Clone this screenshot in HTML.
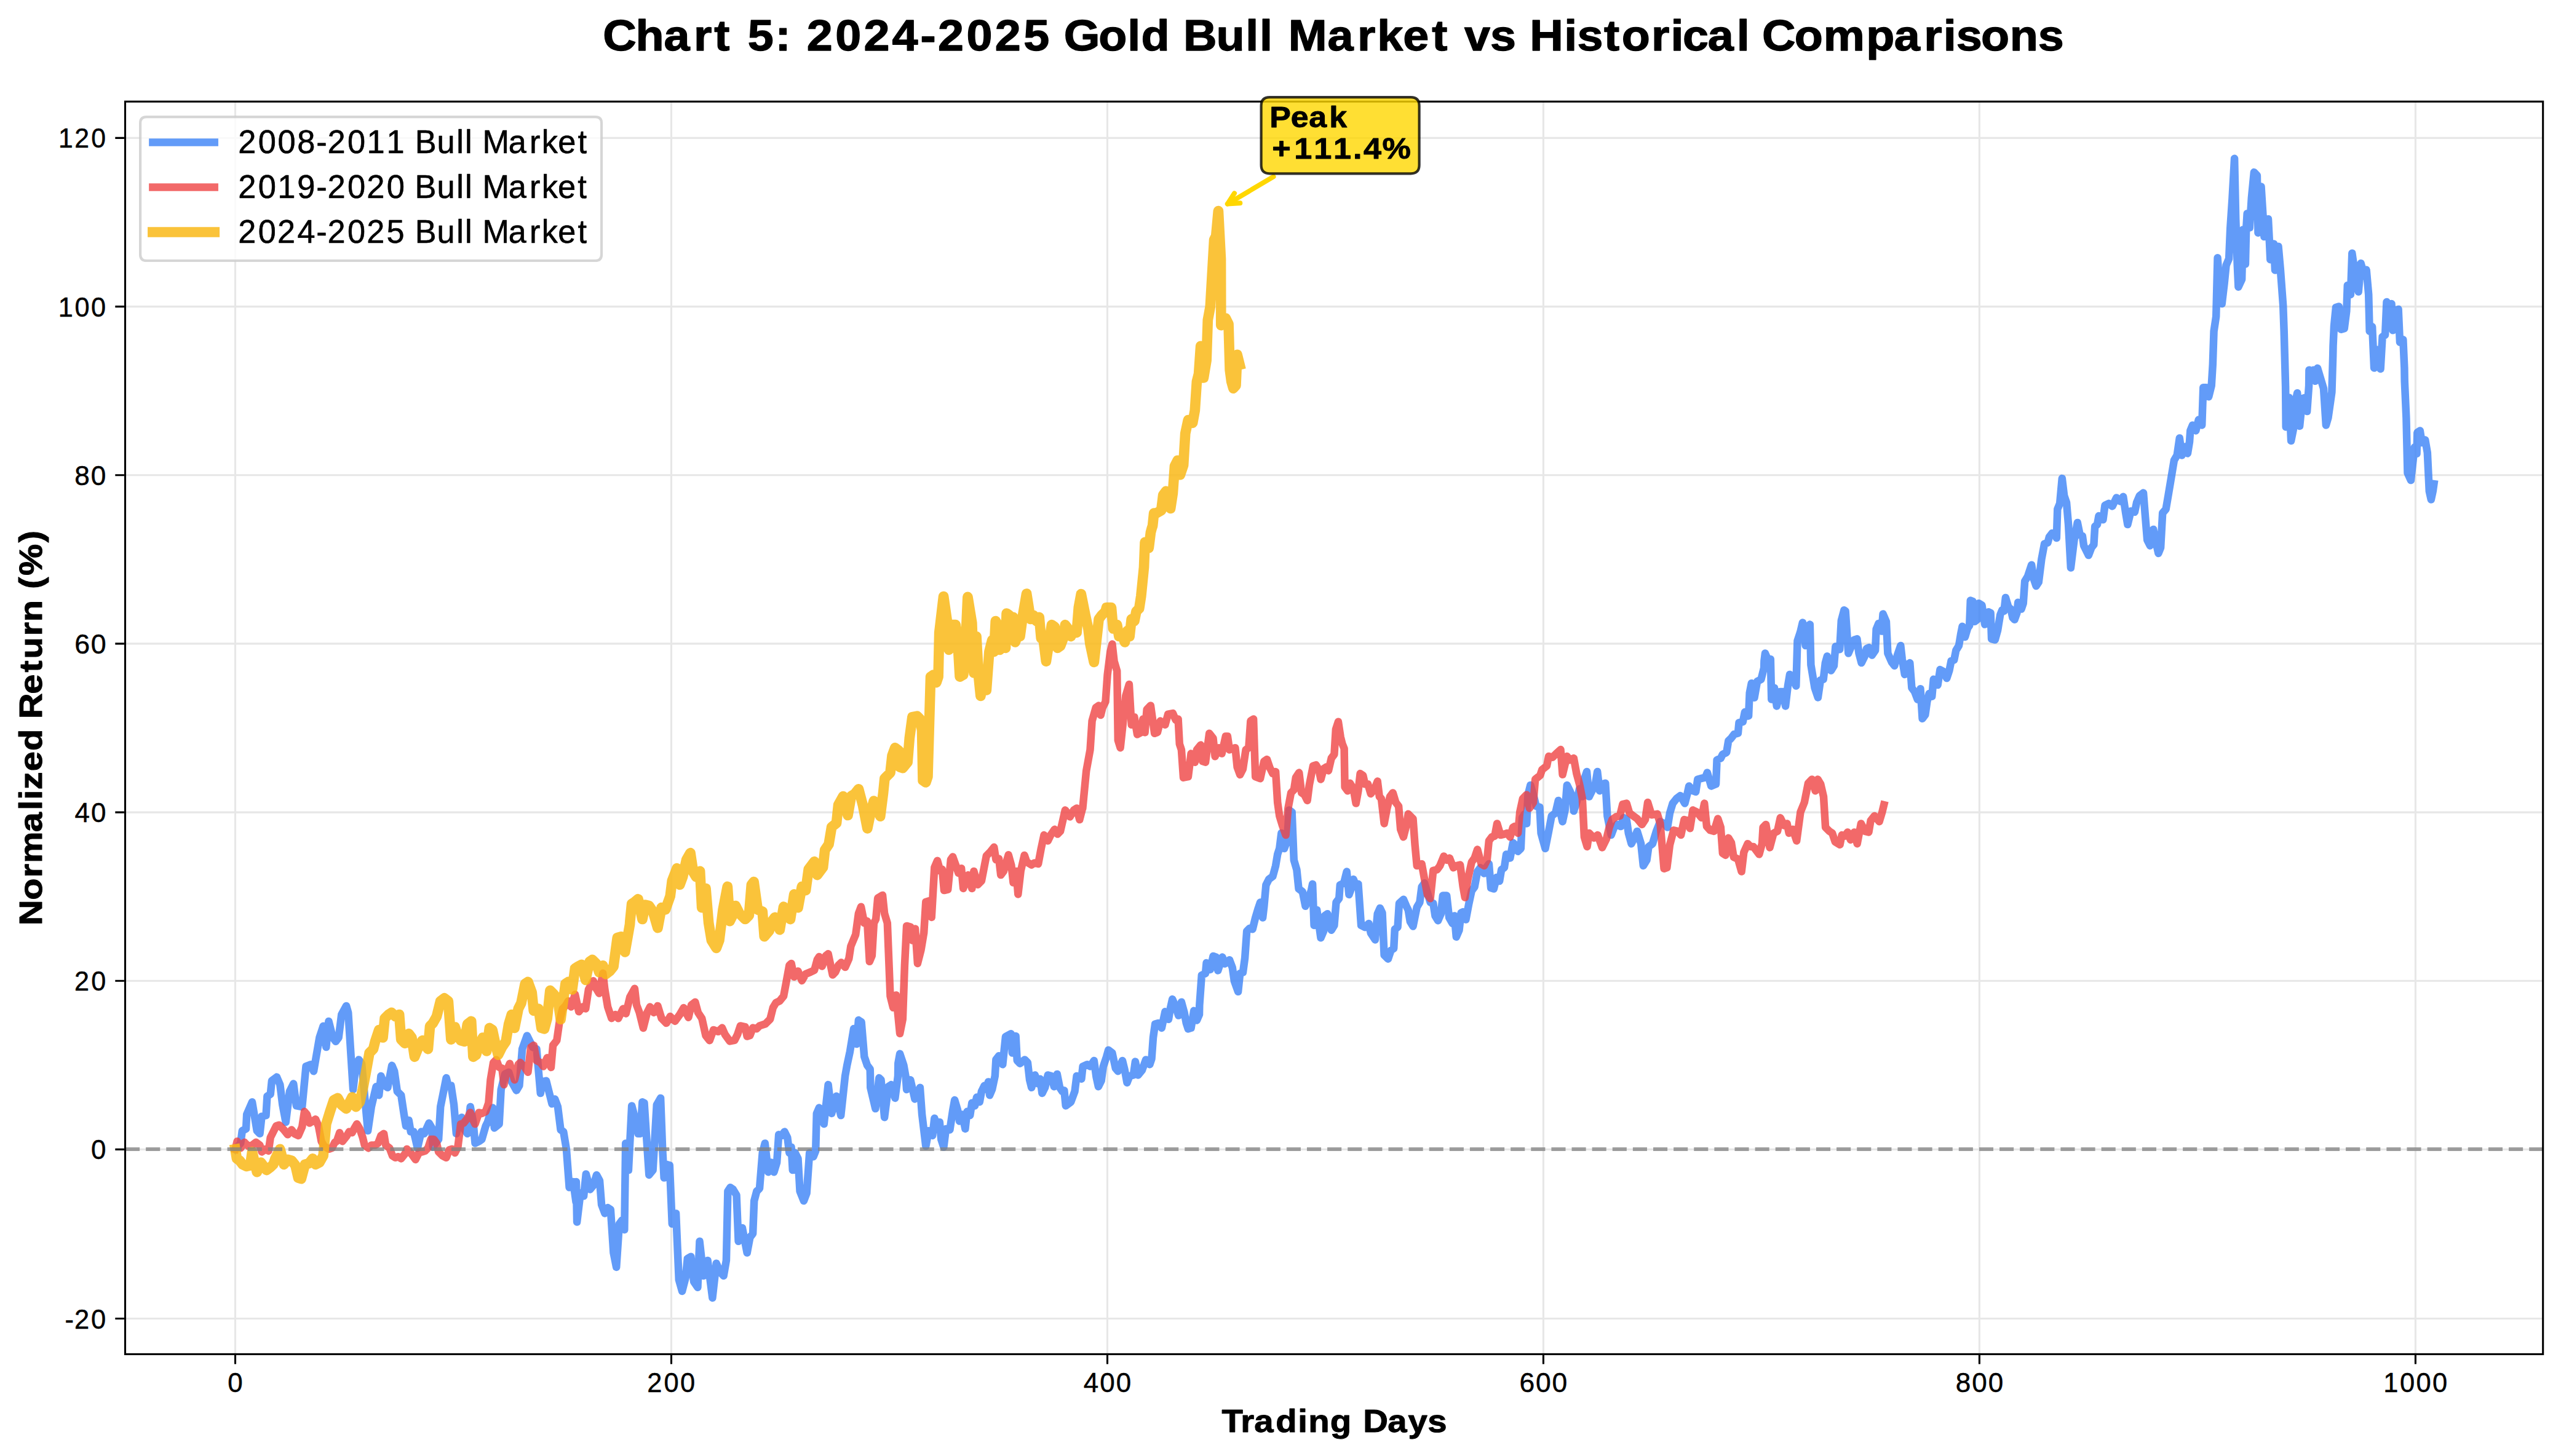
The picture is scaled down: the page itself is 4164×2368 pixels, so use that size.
<!DOCTYPE html><html lang="en"><head><meta charset="utf-8"><title>Chart 5</title>
<style>html,body{margin:0;padding:0;background:#fff}svg{display:block}text{font-family:"Liberation Sans",sans-serif;fill:#000}</style></head><body>
<svg width="4164" height="2368" viewBox="0 0 4164 2368">
<rect width="4164" height="2368" fill="#fff"/>
<path d="M382.5 165.2 V2202.4 M1091.5 165.2 V2202.4 M1800.5 165.2 V2202.4 M2509.4 165.2 V2202.4 M3218.4 165.2 V2202.4 M3927.4 165.2 V2202.4 M203.5 2144.5 H4134.7 M203.5 1869.4 H4134.7 M203.5 1595.2 H4134.7 M203.5 1321.1 H4134.7 M203.5 1046.9 H4134.7 M203.5 772.8 H4134.7 M203.5 498.6 H4134.7 M203.5 224.4 H4134.7" stroke="#b0b0b0" stroke-opacity="0.3" stroke-width="3.1" fill="none"/>
<clipPath id="c"><rect x="203.5" y="165.2" width="3931.2" height="2037.2"/></clipPath>
<g clip-path="url(#c)" fill="none" stroke-linejoin="round" stroke-linecap="square">
<path d="M382.5 1869.1 L391.2 1859.4 L393.8 1839.1 L400.0 1835.9 L401.2 1812.5 L410.0 1792.2 L417.8 1839.1 L422.5 1843.8 L425.6 1815.6 L432.5 1814.1 L434.4 1782.8 L439.7 1779.7 L441.9 1757.8 L450.0 1751.6 L455.3 1764.1 L459.4 1796.9 L464.7 1825.0 L470.9 1775.0 L477.2 1762.5 L481.9 1798.4 L491.2 1800.0 L497.5 1734.4 L505.3 1731.2 L510.0 1742.2 L519.4 1687.5 L525.6 1668.8 L530.3 1703.1 L534.4 1660.9 L541.2 1687.5 L545.9 1693.8 L550.6 1687.5 L555.3 1650.0 L563.1 1635.9 L566.2 1646.9 L574.1 1771.9 L578.8 1731.2 L583.4 1723.4 L588.1 1729.7 L592.8 1781.2 L598.1 1839.1 L603.8 1800.0 L611.6 1767.2 L616.2 1781.2 L619.4 1750.0 L625.6 1765.6 L630.3 1768.8 L637.2 1732.8 L641.2 1742.2 L645.9 1775.0 L652.2 1781.2 L656.9 1812.5 L660.0 1831.2 L664.7 1821.9 L667.8 1840.6 L672.5 1840.6 L675.6 1853.1 L678.8 1867.2 L685.0 1840.6 L689.7 1843.8 L697.5 1826.6 L702.2 1834.4 L703.8 1865.6 L713.1 1853.1 L716.2 1800.0 L725.6 1753.1 L728.8 1765.6 L733.4 1765.6 L738.1 1796.9 L741.9 1843.8 L745.9 1825.0 L750.6 1817.2 L755.3 1837.5 L760.0 1843.8 L764.7 1800.0 L769.4 1825.0 L772.5 1859.4 L778.8 1856.2 L783.4 1853.1 L789.7 1831.2 L792.8 1825.0 L797.5 1809.4 L801.2 1801.6 L803.8 1834.4 L811.6 1828.1 L814.7 1771.9 L820.9 1746.9 L827.2 1743.8 L831.9 1759.4 L839.7 1773.4 L844.4 1765.6 L849.1 1706.2 L856.9 1684.4 L860.0 1690.6 L866.2 1703.1 L872.5 1706.2 L878.8 1778.1 L881.9 1759.4 L888.1 1757.8 L894.4 1782.8 L897.5 1795.3 L902.2 1787.5 L906.9 1800.0 L911.6 1837.5 L916.2 1840.6 L920.9 1868.8 L925.6 1931.2 L931.9 1921.9 L936.6 1955.0 L936.9 1921.9 L938.1 1987.5 L943.8 1940.6 L949.1 1945.3 L952.8 1909.4 L959.4 1934.4 L964.7 1928.1 L970.0 1910.9 L975.0 1920.3 L978.1 1959.4 L983.4 1973.4 L988.1 1964.1 L992.8 1967.2 L997.5 2037.5 L1002.2 2060.9 L1006.9 1990.6 L1011.6 1984.4 L1015.3 2000.0 L1017.2 1859.4 L1021.9 1903.1 L1027.2 1798.4 L1033.4 1821.9 L1037.5 1843.8 L1041.2 1843.8 L1044.4 1792.2 L1047.5 1793.8 L1051.2 1850.0 L1055.3 1910.9 L1061.6 1903.1 L1067.8 1796.9 L1074.1 1785.9 L1077.2 1868.8 L1079.7 1915.6 L1083.4 1893.8 L1088.8 1895.3 L1092.8 1990.6 L1099.1 1973.4 L1103.8 2081.2 L1109.1 2100.0 L1114.7 2078.1 L1117.8 2046.9 L1123.4 2043.8 L1128.1 2084.4 L1134.4 2093.8 L1137.5 2018.8 L1143.8 2075.0 L1150.6 2050.0 L1158.4 2110.9 L1164.7 2054.7 L1170.9 2068.8 L1176.6 2075.0 L1180.9 2050.0 L1183.4 1937.5 L1187.5 1931.2 L1191.9 1934.4 L1197.5 1943.8 L1200.6 2018.8 L1206.9 1996.9 L1214.7 2037.5 L1219.4 2012.5 L1224.1 2006.2 L1226.2 1953.1 L1230.3 1937.5 L1235.0 1932.8 L1239.7 1875.0 L1243.8 1859.4 L1249.1 1906.2 L1253.8 1890.6 L1258.4 1906.2 L1263.1 1890.6 L1266.2 1845.3 L1270.9 1846.9 L1275.6 1840.6 L1280.3 1850.0 L1283.4 1875.0 L1286.6 1865.6 L1288.8 1903.1 L1292.8 1875.0 L1297.5 1884.4 L1300.6 1937.5 L1306.9 1953.1 L1311.6 1940.6 L1316.2 1875.0 L1322.5 1881.2 L1326.2 1871.9 L1327.8 1810.9 L1331.9 1801.6 L1339.7 1828.1 L1346.6 1764.1 L1352.2 1810.9 L1360.0 1782.8 L1367.2 1814.1 L1374.1 1750.0 L1377.2 1732.5 L1381.9 1710.6 L1388.1 1673.1 L1392.8 1698.1 L1395.9 1659.1 L1400.6 1662.2 L1405.3 1718.4 L1410.0 1732.5 L1414.7 1738.8 L1415.0 1750.0 L1415.3 1768.8 L1423.4 1803.1 L1429.4 1753.1 L1432.5 1756.2 L1438.1 1817.2 L1444.4 1767.2 L1449.1 1764.1 L1455.3 1785.9 L1460.0 1750.0 L1460.3 1729.4 L1463.1 1713.8 L1469.4 1732.5 L1472.5 1750.0 L1474.1 1771.9 L1480.3 1756.2 L1487.5 1787.5 L1495.9 1768.8 L1499.1 1812.5 L1505.3 1864.1 L1510.0 1839.1 L1516.2 1846.9 L1519.4 1818.8 L1524.1 1832.8 L1527.8 1825.0 L1530.3 1853.1 L1534.4 1865.6 L1538.1 1835.9 L1544.4 1837.5 L1549.1 1806.2 L1552.2 1789.1 L1556.9 1804.7 L1560.0 1823.4 L1564.7 1812.5 L1569.4 1835.9 L1572.5 1807.8 L1577.2 1814.1 L1580.3 1793.8 L1585.0 1798.4 L1588.1 1784.4 L1592.8 1792.2 L1595.9 1775.0 L1600.6 1765.6 L1603.8 1771.9 L1606.9 1759.4 L1609.1 1781.2 L1613.1 1771.9 L1617.8 1750.0 L1619.4 1723.4 L1624.1 1717.2 L1630.3 1731.2 L1635.0 1685.9 L1643.8 1681.2 L1645.9 1712.5 L1651.6 1685.0 L1653.8 1725.0 L1658.4 1729.7 L1666.2 1723.4 L1670.9 1728.1 L1674.1 1756.2 L1677.2 1768.8 L1682.8 1748.4 L1687.5 1762.5 L1691.2 1754.7 L1694.4 1778.1 L1699.1 1768.8 L1703.8 1748.4 L1709.4 1750.0 L1713.8 1767.2 L1718.8 1746.9 L1723.1 1768.8 L1727.2 1775.0 L1730.3 1773.4 L1732.8 1798.4 L1741.2 1792.2 L1747.5 1775.0 L1750.6 1750.0 L1758.4 1754.7 L1760.6 1734.4 L1767.8 1731.2 L1772.5 1734.4 L1778.8 1725.0 L1782.5 1751.6 L1785.9 1767.2 L1790.6 1757.8 L1793.8 1734.4 L1799.1 1718.8 L1802.2 1707.8 L1808.4 1712.5 L1813.8 1737.5 L1817.8 1742.2 L1825.0 1725.0 L1828.8 1740.6 L1832.5 1760.9 L1836.6 1750.0 L1842.8 1748.4 L1845.9 1726.6 L1850.6 1748.4 L1856.9 1740.6 L1863.1 1723.4 L1869.4 1731.2 L1872.5 1721.9 L1875.0 1687.5 L1878.1 1665.6 L1883.4 1664.1 L1888.8 1671.9 L1894.4 1645.3 L1900.0 1657.8 L1903.1 1639.1 L1906.2 1625.0 L1911.6 1637.5 L1916.2 1651.6 L1920.9 1629.7 L1925.6 1646.9 L1928.8 1664.1 L1931.9 1673.4 L1936.6 1671.9 L1941.2 1643.8 L1945.9 1659.4 L1950.0 1650.0 L1950.3 1635.0 L1953.8 1586.2 L1960.0 1583.1 L1961.6 1565.9 L1967.8 1576.9 L1972.5 1555.0 L1977.2 1556.6 L1980.3 1578.4 L1987.5 1556.6 L1991.2 1567.5 L1999.1 1561.2 L2003.8 1573.8 L2006.9 1595.6 L2013.1 1612.8 L2016.2 1583.1 L2020.9 1581.6 L2024.1 1558.1 L2027.2 1514.4 L2031.9 1509.7 L2036.6 1511.2 L2041.2 1492.5 L2045.9 1476.9 L2049.1 1467.5 L2053.1 1492.5 L2055.3 1473.8 L2058.4 1439.4 L2063.1 1430.0 L2069.4 1425.3 L2074.1 1408.1 L2077.2 1389.4 L2080.3 1380.0 L2083.4 1355.0 L2088.1 1380.0 L2092.8 1367.5 L2095.9 1317.5 L2100.6 1320.6 L2103.8 1398.8 L2108.4 1414.4 L2111.6 1445.6 L2117.8 1450.3 L2122.5 1473.8 L2127.2 1461.2 L2131.9 1448.8 L2134.1 1437.8 L2136.6 1505.0 L2141.2 1480.0 L2147.5 1525.3 L2152.2 1514.4 L2153.8 1489.4 L2158.4 1486.2 L2164.7 1512.8 L2169.4 1505.0 L2172.5 1467.5 L2177.2 1461.2 L2178.8 1439.4 L2185.0 1436.2 L2189.7 1417.5 L2193.4 1455.0 L2196.9 1445.6 L2200.6 1430.0 L2205.3 1442.5 L2208.4 1437.8 L2213.1 1505.0 L2219.4 1508.1 L2225.6 1501.9 L2228.8 1517.5 L2235.9 1528.4 L2239.7 1486.2 L2243.8 1476.9 L2247.5 1484.7 L2250.6 1553.4 L2256.9 1559.7 L2261.6 1545.6 L2266.2 1542.5 L2267.8 1511.2 L2272.5 1508.1 L2275.0 1469.1 L2281.9 1462.8 L2286.6 1473.8 L2289.7 1480.0 L2292.8 1498.8 L2297.5 1506.6 L2303.8 1475.3 L2308.4 1467.5 L2311.6 1442.5 L2316.2 1436.2 L2320.9 1451.9 L2325.6 1467.5 L2330.3 1469.1 L2333.4 1489.4 L2338.1 1497.2 L2342.8 1486.2 L2345.9 1456.6 L2352.2 1456.6 L2356.2 1492.5 L2361.6 1501.9 L2364.7 1489.4 L2367.8 1523.8 L2372.5 1512.8 L2375.6 1484.7 L2378.8 1483.1 L2383.4 1495.6 L2388.1 1470.6 L2392.8 1448.8 L2397.5 1442.5 L2402.2 1417.5 L2406.9 1411.2 L2413.1 1420.6 L2416.2 1411.2 L2420.9 1405.0 L2424.1 1444.1 L2428.8 1445.6 L2433.4 1426.9 L2438.1 1433.1 L2441.2 1414.4 L2445.9 1411.2 L2449.1 1389.4 L2455.3 1395.6 L2460.0 1370.6 L2463.4 1373.8 L2468.1 1384.7 L2472.8 1380.0 L2475.0 1330.0 L2479.1 1323.8 L2482.2 1339.4 L2484.4 1292.5 L2488.4 1276.9 L2493.1 1292.5 L2497.8 1311.2 L2503.4 1312.8 L2505.6 1355.0 L2512.5 1380.0 L2518.1 1351.9 L2522.8 1326.9 L2529.1 1322.2 L2533.8 1301.9 L2538.4 1326.9 L2540.6 1336.2 L2544.7 1317.5 L2547.8 1276.9 L2552.5 1286.2 L2557.2 1297.2 L2558.8 1319.1 L2563.4 1305.0 L2568.1 1283.1 L2572.8 1295.6 L2575.9 1267.5 L2580.0 1255.0 L2583.8 1295.6 L2590.0 1283.1 L2593.1 1280.0 L2597.2 1255.0 L2600.9 1286.2 L2605.6 1275.3 L2610.3 1273.8 L2613.4 1326.9 L2619.7 1358.1 L2624.4 1345.6 L2629.1 1340.9 L2635.3 1344.1 L2640.0 1330.0 L2644.7 1333.1 L2647.8 1355.0 L2652.5 1372.2 L2658.8 1359.7 L2661.9 1351.9 L2668.1 1372.2 L2671.9 1408.1 L2677.5 1398.8 L2680.6 1376.9 L2686.9 1372.2 L2693.1 1351.9 L2699.4 1336.2 L2705.6 1339.4 L2711.2 1345.6 L2715.0 1322.2 L2719.7 1306.6 L2725.9 1298.8 L2732.2 1294.1 L2739.4 1306.6 L2743.1 1292.5 L2746.2 1278.4 L2752.5 1286.2 L2757.2 1287.8 L2760.3 1267.5 L2766.6 1265.9 L2772.8 1264.4 L2775.9 1256.6 L2782.2 1278.4 L2790.0 1275.3 L2791.6 1236.2 L2797.8 1233.1 L2800.9 1226.9 L2807.2 1223.8 L2810.3 1205.0 L2815.0 1200.3 L2819.7 1194.1 L2825.9 1192.5 L2827.5 1175.3 L2833.8 1173.8 L2836.9 1158.1 L2843.1 1164.4 L2844.7 1126.9 L2847.8 1111.2 L2852.5 1134.7 L2857.2 1108.1 L2863.4 1105.0 L2868.1 1086.2 L2868.4 1075.0 L2870.0 1062.5 L2874.1 1071.9 L2878.8 1071.9 L2880.3 1137.5 L2885.0 1118.8 L2888.8 1148.4 L2894.4 1125.0 L2899.1 1125.0 L2903.1 1148.4 L2906.9 1115.6 L2910.0 1096.9 L2914.7 1103.1 L2920.3 1115.6 L2922.5 1042.2 L2927.2 1028.1 L2930.9 1012.5 L2935.6 1050.0 L2938.1 1018.8 L2942.8 1015.6 L2944.4 1081.2 L2950.6 1118.8 L2955.9 1134.4 L2960.0 1106.2 L2964.7 1104.7 L2967.8 1078.1 L2970.9 1067.2 L2977.2 1090.6 L2981.9 1082.8 L2984.4 1051.6 L2991.2 1056.2 L2993.8 1009.4 L2998.4 992.2 L3000.6 993.8 L3005.3 1062.5 L3010.0 1051.6 L3014.7 1040.6 L3019.4 1039.1 L3022.5 1062.5 L3026.6 1078.1 L3031.9 1067.2 L3035.0 1054.7 L3039.1 1053.1 L3043.8 1065.6 L3049.1 1057.8 L3050.6 1023.4 L3054.4 1014.1 L3059.4 1026.6 L3061.6 998.4 L3066.9 1010.9 L3069.4 1062.5 L3075.6 1076.6 L3080.3 1082.8 L3085.0 1065.6 L3090.3 1050.0 L3092.8 1071.9 L3096.9 1096.9 L3100.6 1081.2 L3105.3 1078.1 L3108.4 1118.8 L3113.1 1125.0 L3117.8 1137.5 L3122.5 1120.3 L3125.6 1168.8 L3130.3 1162.5 L3133.4 1140.6 L3136.6 1128.1 L3141.2 1132.8 L3143.8 1104.7 L3150.6 1114.1 L3154.4 1089.1 L3160.0 1092.2 L3165.3 1103.1 L3169.4 1090.6 L3172.5 1075.0 L3177.2 1073.4 L3180.3 1057.8 L3185.0 1050.0 L3188.1 1031.2 L3190.6 1018.8 L3195.0 1035.9 L3199.1 1021.9 L3202.2 1017.2 L3203.8 976.6 L3207.5 978.1 L3210.6 1010.9 L3214.7 1007.8 L3217.2 981.2 L3222.5 984.4 L3227.2 1015.6 L3231.9 1012.5 L3233.4 995.3 L3236.6 996.9 L3238.1 1039.1 L3243.8 1040.6 L3248.1 1025.0 L3252.2 1000.0 L3255.3 992.2 L3258.4 993.8 L3260.9 971.9 L3265.6 987.5 L3269.4 990.6 L3272.5 1004.7 L3275.6 1007.8 L3279.4 996.9 L3281.2 979.7 L3286.6 990.6 L3289.7 981.2 L3292.2 945.3 L3296.9 937.5 L3303.1 918.8 L3306.9 942.2 L3310.6 953.1 L3314.7 946.9 L3319.4 909.4 L3324.1 884.4 L3329.4 882.8 L3331.9 873.4 L3336.6 867.2 L3341.2 865.6 L3343.8 875.0 L3345.3 828.1 L3349.1 818.8 L3352.8 778.1 L3356.2 806.2 L3360.0 817.2 L3363.1 853.1 L3366.9 923.4 L3372.5 878.1 L3377.8 850.0 L3381.9 870.3 L3385.9 871.9 L3388.1 887.5 L3395.9 903.1 L3400.6 890.6 L3404.4 885.9 L3406.2 856.2 L3410.0 853.1 L3412.5 839.1 L3419.4 845.3 L3422.5 821.9 L3428.8 818.8 L3434.4 823.4 L3441.2 809.4 L3447.5 815.6 L3452.2 807.8 L3456.2 834.4 L3459.4 853.1 L3464.7 831.2 L3470.9 832.8 L3474.1 817.2 L3478.8 806.2 L3485.0 801.6 L3488.1 840.6 L3491.2 878.1 L3495.9 887.5 L3501.2 860.9 L3505.3 881.2 L3509.4 900.0 L3513.1 890.6 L3516.2 834.4 L3521.6 828.1 L3525.6 804.7 L3530.3 776.6 L3535.0 748.4 L3539.7 740.6 L3543.8 712.5 L3547.5 740.6 L3552.2 726.6 L3556.9 737.5 L3560.0 718.8 L3561.3 700.4 L3564.9 691.5 L3570.3 700.4 L3574.8 682.5 L3580.2 691.5 L3582.3 630.2 L3586.7 630.2 L3591.2 645.2 L3595.7 627.2 L3597.8 592.6 L3599.6 538.8 L3603.2 514.9 L3605.6 419.3 L3609.2 473.1 L3612.7 494.0 L3616.6 461.1 L3619.6 431.2 L3624.1 420.8 L3626.2 371.9 L3629.5 322.4 L3633.1 257.8 L3635.2 355.4 L3637.7 429.6 L3639.4 466.7 L3645.1 454.3 L3646.3 404.9 L3646.6 373.6 L3649.2 404.9 L3650.9 429.6 L3652.2 371.9 L3653.7 347.2 L3657.8 370.3 L3660.8 322.4 L3664.9 280.1 L3669.9 285.3 L3671.5 378.8 L3674.3 338.9 L3676.5 303.5 L3679.8 355.4 L3681.4 385.1 L3685.5 368.6 L3688.0 356.2 L3690.1 396.6 L3691.3 422.2 L3695.4 404.9 L3697.1 396.6 L3699.0 439.5 L3702.8 404.9 L3704.5 400.8 L3707.8 437.9 L3712.2 497.0 L3713.7 538.8 L3716.1 628.4 L3716.4 658.6 L3716.7 694.5 L3719.1 646.6 L3722.1 646.6 L3725.1 716.9 L3730.2 691.5 L3733.1 649.6 L3735.2 639.2 L3739.1 693.0 L3743.6 648.1 L3748.1 646.6 L3751.1 669.1 L3754.1 627.2 L3754.4 601.8 L3757.1 618.3 L3761.5 601.8 L3764.5 619.8 L3768.1 598.8 L3773.5 616.8 L3778.0 631.7 L3781.9 691.5 L3785.4 679.5 L3791.4 637.7 L3793.2 577.9 L3793.5 562.7 L3795.0 529.8 L3798.0 499.9 L3802.8 498.5 L3806.4 535.8 L3811.7 534.3 L3815.3 505.9 L3816.8 464.1 L3821.9 479.0 L3824.3 411.8 L3828.8 443.2 L3834.7 474.5 L3838.6 428.2 L3843.7 446.2 L3847.6 438.7 L3851.2 479.0 L3852.7 538.8 L3857.1 531.3 L3860.1 598.5 L3864.6 568.7 L3870.6 600.0 L3873.6 547.8 L3878.1 544.8 L3880.5 491.0 L3884.0 502.9 L3888.5 494.0 L3890.6 537.3 L3894.5 505.9 L3899.6 502.9 L3902.0 556.7 L3907.3 552.2 L3909.4 598.5 L3909.7 619.8 L3912.4 679.5 L3914.5 769.2 L3919.9 781.1 L3922.9 754.2 L3925.9 727.3 L3929.5 737.8 L3930.3 703.4 L3934.8 700.4 L3937.8 719.9 L3943.2 715.4 L3946.8 736.3 L3949.8 799.0 L3952.8 812.5 L3955.7 799.0 L3957.4 787.1" stroke="#3B82F6" stroke-opacity="0.8" stroke-width="12.5"/>
<path d="M382.5 1869.1 L385.6 1856.2 L391.2 1867.2 L397.5 1857.8 L403.8 1864.1 L410.0 1862.5 L416.2 1857.8 L422.5 1862.5 L425.6 1873.4 L431.9 1868.8 L436.6 1871.9 L439.7 1850.0 L449.1 1831.2 L453.8 1829.7 L461.6 1837.5 L467.8 1845.3 L474.1 1837.5 L478.8 1843.8 L485.0 1846.9 L491.2 1832.8 L495.0 1807.8 L499.1 1812.5 L503.1 1826.6 L508.4 1823.4 L513.1 1820.3 L517.8 1831.2 L522.5 1856.2 L527.2 1864.1 L535.0 1868.8 L539.7 1867.2 L544.4 1857.8 L547.5 1856.2 L552.2 1842.2 L556.9 1856.2 L563.1 1848.4 L567.8 1840.6 L572.5 1842.2 L575.6 1835.9 L580.3 1828.1 L585.0 1835.9 L589.7 1850.0 L592.8 1862.5 L599.1 1867.2 L603.8 1862.5 L610.0 1862.5 L614.7 1859.4 L619.4 1846.9 L624.1 1843.8 L627.2 1862.5 L633.4 1867.2 L638.1 1879.7 L642.8 1882.8 L647.5 1881.2 L652.2 1884.4 L658.4 1876.6 L661.6 1868.8 L667.8 1875.0 L675.6 1885.9 L681.9 1873.4 L686.6 1873.4 L691.2 1871.9 L695.9 1867.2 L700.6 1853.1 L705.3 1853.1 L710.0 1859.4 L713.1 1873.4 L719.4 1879.7 L725.6 1882.8 L730.3 1870.3 L735.0 1868.8 L739.7 1875.0 L744.4 1865.6 L749.1 1828.1 L753.8 1826.6 L760.0 1818.8 L764.7 1809.4 L769.4 1821.9 L772.5 1828.1 L778.8 1809.4 L783.4 1810.9 L789.7 1807.8 L794.4 1793.8 L797.5 1756.2 L802.2 1728.1 L806.9 1723.4 L811.6 1735.9 L816.2 1737.5 L819.4 1764.1 L824.1 1740.6 L828.8 1729.7 L831.9 1740.6 L836.6 1756.2 L842.8 1731.2 L845.9 1728.1 L852.2 1734.4 L858.4 1743.8 L863.1 1703.1 L867.8 1700.0 L872.5 1725.0 L878.8 1728.1 L883.4 1734.4 L889.7 1720.3 L895.9 1735.9 L899.1 1700.0 L905.3 1692.2 L910.0 1659.4 L914.7 1640.6 L919.4 1635.9 L924.1 1628.1 L928.8 1637.5 L935.0 1617.2 L941.2 1645.3 L947.5 1637.5 L952.2 1640.6 L956.9 1609.4 L964.7 1595.3 L969.4 1607.8 L974.1 1615.6 L980.3 1582.8 L983.4 1609.4 L988.1 1637.5 L994.4 1656.2 L1000.6 1650.0 L1005.3 1656.2 L1013.1 1640.6 L1017.8 1648.4 L1024.1 1621.9 L1031.9 1607.8 L1035.0 1634.4 L1039.7 1646.9 L1045.9 1671.9 L1052.2 1646.9 L1056.9 1637.5 L1063.1 1646.9 L1069.4 1635.9 L1075.6 1656.2 L1083.4 1664.1 L1089.7 1653.1 L1097.5 1660.9 L1105.3 1650.0 L1111.6 1639.1 L1119.4 1654.7 L1124.1 1634.4 L1130.3 1629.7 L1135.0 1646.9 L1141.2 1656.2 L1147.5 1684.4 L1153.8 1692.2 L1160.0 1675.0 L1167.8 1677.8 L1174.1 1671.6 L1178.8 1682.5 L1186.6 1693.4 L1194.4 1691.9 L1199.1 1682.5 L1203.8 1668.4 L1211.6 1670.0 L1214.7 1685.6 L1219.4 1684.1 L1224.1 1671.6 L1230.3 1673.1 L1235.0 1668.4 L1244.4 1665.3 L1252.2 1657.5 L1256.9 1638.8 L1261.6 1630.9 L1267.8 1627.8 L1274.1 1620.0 L1278.8 1595.0 L1283.4 1570.0 L1286.6 1566.9 L1291.2 1588.8 L1297.5 1579.4 L1303.8 1595.0 L1310.0 1584.1 L1317.8 1580.9 L1324.1 1577.8 L1328.8 1560.6 L1331.9 1555.9 L1336.6 1571.6 L1342.8 1554.4 L1346.6 1551.2 L1353.8 1585.6 L1358.4 1580.9 L1363.1 1570.0 L1367.8 1565.3 L1374.1 1573.1 L1380.3 1559.1 L1383.4 1538.8 L1391.2 1520.0 L1395.9 1485.6 L1400.0 1474.7 L1405.3 1501.2 L1410.0 1498.1 L1413.8 1563.8 L1417.8 1554.4 L1420.9 1501.2 L1424.1 1495.0 L1427.2 1460.6 L1435.0 1455.9 L1438.1 1485.6 L1442.8 1501.2 L1447.5 1620.0 L1452.2 1638.8 L1456.9 1618.4 L1463.1 1680.9 L1467.8 1657.5 L1470.9 1570.0 L1474.1 1505.9 L1480.3 1507.5 L1483.4 1529.4 L1488.1 1510.6 L1491.9 1566.9 L1497.5 1545.0 L1502.2 1516.9 L1505.3 1466.9 L1510.0 1465.3 L1514.7 1491.9 L1519.4 1410.6 L1524.1 1399.7 L1528.8 1416.9 L1531.9 1413.8 L1535.0 1448.1 L1541.2 1446.6 L1545.9 1398.1 L1549.1 1393.4 L1555.3 1410.6 L1558.4 1420.0 L1563.1 1412.2 L1566.2 1445.0 L1574.1 1423.1 L1580.3 1445.0 L1583.4 1416.9 L1589.7 1438.8 L1595.9 1432.5 L1603.8 1391.9 L1610.0 1385.6 L1616.2 1377.8 L1619.4 1398.1 L1624.1 1396.6 L1627.2 1423.1 L1631.9 1416.9 L1639.7 1390.3 L1644.4 1407.5 L1647.5 1435.6 L1652.2 1416.9 L1655.3 1454.4 L1660.0 1413.8 L1660.3 1413.8 L1665.6 1390.9 L1669.4 1401.9 L1677.2 1406.6 L1681.9 1403.4 L1688.1 1405.0 L1692.8 1380.0 L1697.5 1358.1 L1703.8 1367.5 L1708.4 1358.1 L1714.7 1348.8 L1719.4 1356.6 L1724.1 1351.9 L1731.9 1317.5 L1739.7 1328.4 L1745.9 1317.5 L1750.6 1314.4 L1755.3 1333.1 L1760.0 1315.0 L1760.3 1315.0 L1766.2 1253.8 L1772.5 1219.4 L1775.6 1172.5 L1781.9 1150.6 L1786.6 1147.5 L1789.7 1163.1 L1792.8 1150.6 L1797.5 1141.2 L1800.6 1097.5 L1805.3 1060.0 L1808.4 1047.5 L1811.6 1075.6 L1816.2 1091.2 L1817.8 1203.8 L1821.6 1216.2 L1825.6 1178.8 L1830.3 1131.9 L1835.9 1113.1 L1839.7 1178.8 L1844.4 1166.2 L1849.1 1194.4 L1855.3 1191.2 L1858.4 1169.4 L1861.6 1191.2 L1864.7 1153.8 L1870.9 1147.5 L1877.2 1192.8 L1881.9 1191.2 L1886.6 1172.5 L1894.4 1178.8 L1899.1 1161.6 L1906.9 1160.0 L1911.6 1170.9 L1915.6 1169.4 L1917.8 1210.0 L1920.9 1219.4 L1924.1 1264.7 L1931.9 1263.1 L1936.6 1225.6 L1942.8 1239.7 L1945.9 1219.4 L1952.2 1211.6 L1955.3 1238.1 L1960.0 1239.7 L1966.2 1192.8 L1972.5 1200.6 L1975.6 1230.3 L1981.9 1216.2 L1986.6 1225.6 L1992.8 1197.5 L1995.9 1197.5 L1999.1 1219.4 L2008.4 1216.2 L2011.6 1247.5 L2016.2 1260.0 L2020.9 1250.6 L2025.6 1219.4 L2030.3 1216.2 L2033.4 1172.5 L2038.1 1169.4 L2041.2 1263.1 L2049.1 1266.2 L2055.3 1238.1 L2060.0 1235.0 L2064.7 1248.8 L2069.4 1258.1 L2074.1 1255.0 L2077.2 1305.0 L2080.3 1326.9 L2085.0 1342.5 L2090.6 1358.1 L2094.4 1314.4 L2099.1 1289.4 L2103.8 1284.7 L2106.9 1264.4 L2112.2 1256.6 L2116.2 1289.4 L2120.9 1292.5 L2125.6 1301.9 L2128.8 1276.9 L2135.0 1245.6 L2139.7 1244.1 L2144.4 1251.9 L2147.5 1267.5 L2152.2 1250.3 L2156.9 1247.2 L2160.0 1253.4 L2164.7 1233.1 L2169.4 1226.9 L2171.9 1186.2 L2175.9 1173.8 L2179.7 1198.8 L2182.5 1209.7 L2185.6 1217.5 L2186.6 1280.0 L2191.2 1286.2 L2195.0 1273.8 L2200.6 1283.1 L2204.7 1306.6 L2208.4 1286.2 L2211.6 1258.1 L2216.2 1261.2 L2219.4 1275.3 L2224.1 1275.3 L2228.8 1290.9 L2235.0 1283.1 L2239.7 1270.6 L2242.8 1295.6 L2245.9 1298.8 L2250.6 1339.4 L2255.3 1314.4 L2260.0 1295.6 L2264.7 1289.4 L2269.4 1305.0 L2274.1 1311.2 L2277.2 1348.8 L2281.9 1361.2 L2286.6 1342.5 L2289.7 1323.8 L2297.5 1331.6 L2300.6 1373.8 L2303.8 1408.1 L2311.6 1405.0 L2316.2 1430.0 L2320.9 1455.0 L2325.6 1461.2 L2330.3 1415.9 L2336.6 1414.4 L2341.2 1408.1 L2347.5 1392.5 L2352.2 1398.8 L2356.9 1395.6 L2363.1 1411.2 L2367.8 1408.1 L2374.1 1406.6 L2378.8 1442.5 L2381.9 1459.7 L2386.6 1430.0 L2392.8 1401.9 L2397.5 1395.6 L2402.2 1381.6 L2408.4 1405.0 L2413.1 1408.1 L2417.8 1398.8 L2420.9 1367.5 L2425.6 1361.2 L2430.3 1359.7 L2434.1 1339.4 L2439.7 1358.1 L2445.9 1356.6 L2450.6 1355.0 L2455.3 1361.2 L2460.0 1345.6 L2462.5 1344.1 L2468.1 1355.0 L2471.2 1320.6 L2475.9 1298.8 L2482.2 1292.5 L2486.9 1314.4 L2493.1 1305.0 L2496.2 1267.5 L2504.1 1261.2 L2507.2 1251.9 L2515.0 1245.6 L2518.1 1230.0 L2524.4 1231.6 L2530.6 1225.3 L2537.5 1219.1 L2540.6 1259.7 L2547.8 1230.0 L2552.5 1236.2 L2558.8 1233.1 L2563.4 1258.1 L2568.1 1275.3 L2572.8 1298.8 L2575.9 1361.2 L2580.6 1376.9 L2583.8 1355.0 L2591.6 1362.8 L2597.8 1358.1 L2605.0 1378.4 L2611.9 1364.4 L2616.6 1345.6 L2621.2 1333.1 L2627.5 1328.4 L2633.8 1326.9 L2638.4 1308.1 L2644.7 1306.6 L2649.4 1322.2 L2655.6 1326.9 L2661.9 1331.6 L2669.7 1340.9 L2675.0 1333.1 L2679.1 1305.0 L2685.3 1325.3 L2694.7 1323.8 L2699.4 1339.4 L2705.6 1412.8 L2710.3 1411.2 L2715.0 1373.8 L2721.2 1350.3 L2727.5 1351.9 L2733.1 1358.1 L2738.4 1333.1 L2744.7 1334.7 L2747.8 1347.2 L2752.5 1317.5 L2758.8 1320.6 L2766.6 1330.0 L2771.2 1306.6 L2775.0 1344.1 L2780.6 1350.3 L2786.9 1351.9 L2793.1 1331.6 L2797.8 1345.6 L2800.9 1387.8 L2805.6 1390.9 L2810.3 1362.8 L2815.0 1370.6 L2818.8 1394.1 L2825.9 1397.2 L2831.6 1417.5 L2835.3 1386.2 L2841.6 1372.2 L2846.2 1376.9 L2850.9 1376.9 L2860.3 1389.4 L2865.0 1372.2 L2866.6 1345.6 L2871.2 1340.9 L2877.5 1378.4 L2883.8 1355.0 L2890.0 1351.9 L2894.7 1330.0 L2900.9 1342.5 L2905.6 1339.4 L2908.8 1355.0 L2915.0 1348.8 L2921.2 1367.5 L2927.5 1320.6 L2933.8 1305.0 L2940.0 1273.8 L2946.2 1267.5 L2951.6 1286.2 L2955.6 1267.5 L2960.3 1275.3 L2965.0 1295.6 L2968.1 1345.6 L2974.4 1351.9 L2979.1 1355.0 L2983.8 1369.1 L2991.6 1373.8 L2994.7 1358.1 L2999.4 1359.7 L3004.1 1353.4 L3008.8 1365.9 L3015.0 1353.4 L3019.7 1372.2 L3025.9 1339.4 L3032.2 1351.9 L3038.4 1353.4 L3041.6 1334.7 L3047.8 1326.9 L3055.6 1336.2 L3060.3 1320.6 L3063.1 1309.1" stroke="#EF4444" stroke-opacity="0.8" stroke-width="12.5"/>
<path d="M382.5 1869.1 L385.0 1884.4 L389.7 1887.5 L394.4 1893.8 L400.6 1896.9 L406.9 1895.3 L410.0 1873.4 L417.8 1906.2 L424.1 1890.6 L433.4 1903.1 L439.7 1898.4 L444.4 1893.8 L447.5 1884.4 L455.3 1868.8 L461.6 1893.8 L467.8 1885.9 L474.1 1887.5 L480.3 1895.3 L485.0 1915.6 L489.7 1917.2 L495.9 1893.8 L502.2 1892.2 L508.4 1884.4 L513.1 1893.8 L519.4 1890.6 L525.6 1879.7 L530.3 1828.1 L536.6 1807.8 L542.8 1789.1 L549.1 1785.9 L555.3 1796.9 L563.1 1803.1 L572.5 1784.4 L578.8 1800.0 L585.0 1792.2 L589.7 1771.9 L594.4 1746.9 L600.6 1712.5 L606.9 1706.2 L610.0 1693.8 L616.2 1675.0 L622.5 1687.5 L625.6 1656.2 L631.9 1650.0 L636.6 1646.9 L642.8 1653.1 L649.1 1650.0 L652.2 1690.6 L658.4 1696.9 L664.7 1681.2 L669.4 1687.5 L674.1 1718.8 L680.3 1703.1 L686.6 1692.2 L691.2 1700.0 L695.9 1706.2 L699.1 1668.8 L703.8 1664.1 L710.0 1653.1 L716.2 1628.1 L722.5 1623.4 L728.8 1628.1 L733.4 1690.6 L739.7 1670.3 L744.4 1684.4 L749.1 1692.2 L755.3 1693.8 L760.0 1665.6 L766.2 1660.9 L769.4 1718.8 L774.1 1715.6 L778.8 1700.0 L785.0 1687.5 L791.2 1709.4 L795.9 1671.9 L800.6 1675.0 L805.3 1696.9 L810.0 1715.6 L816.2 1703.1 L822.5 1693.8 L827.2 1665.6 L831.9 1650.0 L836.6 1671.9 L842.8 1640.6 L847.5 1631.2 L853.8 1600.0 L858.4 1596.9 L864.7 1614.1 L867.8 1643.8 L875.6 1640.6 L880.3 1671.9 L885.0 1673.4 L889.7 1656.2 L894.4 1610.9 L900.6 1617.2 L906.9 1625.0 L911.6 1657.8 L919.4 1600.0 L924.1 1596.9 L930.3 1609.4 L935.0 1575.0 L939.7 1571.9 L945.9 1568.8 L952.2 1593.8 L958.4 1564.1 L963.1 1560.9 L969.4 1567.2 L974.1 1581.2 L980.3 1570.3 L985.0 1584.4 L991.2 1579.7 L997.5 1571.9 L1003.8 1525.0 L1010.0 1523.4 L1016.2 1548.4 L1024.1 1503.1 L1024.4 1498.1 L1027.2 1470.0 L1031.9 1466.9 L1037.5 1462.2 L1044.4 1495.0 L1049.1 1471.6 L1055.3 1473.1 L1061.6 1482.5 L1069.4 1509.1 L1075.6 1476.2 L1081.9 1479.4 L1089.7 1457.5 L1092.8 1432.5 L1100.6 1412.2 L1105.3 1438.8 L1110.0 1426.2 L1116.2 1398.1 L1122.5 1387.2 L1127.2 1418.4 L1131.9 1426.2 L1138.1 1416.9 L1141.2 1476.2 L1147.5 1445.0 L1152.2 1501.2 L1156.9 1529.4 L1164.7 1541.9 L1169.4 1529.4 L1175.6 1479.4 L1182.8 1441.9 L1186.6 1498.1 L1191.2 1488.8 L1195.9 1473.1 L1202.2 1485.6 L1211.6 1495.0 L1217.8 1488.8 L1221.9 1438.8 L1225.6 1434.1 L1231.9 1479.4 L1239.7 1482.5 L1242.8 1523.1 L1250.6 1513.8 L1255.3 1498.1 L1260.0 1491.9 L1267.8 1512.2 L1274.1 1474.7 L1280.3 1482.5 L1285.0 1495.0 L1291.2 1454.4 L1297.5 1476.2 L1303.8 1441.9 L1310.0 1448.1 L1314.7 1413.8 L1324.1 1401.2 L1328.8 1423.1 L1338.1 1410.6 L1341.2 1382.5 L1347.5 1373.1 L1352.2 1345.0 L1360.0 1338.8 L1363.1 1309.1 L1370.9 1295.0 L1378.5 1326.0 L1384.0 1294.7 L1389.5 1291.4 L1396.0 1283.3 L1403.0 1310.0 L1410.3 1347.4 L1415.5 1322.0 L1420.8 1302.5 L1426.0 1314.0 L1431.2 1327.6 L1436.0 1290.0 L1438.4 1266.2 L1441.2 1263.1 L1447.5 1256.9 L1450.6 1228.8 L1455.3 1216.2 L1461.6 1220.9 L1463.1 1247.5 L1467.8 1249.1 L1475.6 1239.7 L1478.8 1200.6 L1483.4 1166.2 L1491.2 1164.7 L1495.9 1169.4 L1499.1 1188.1 L1500.6 1269.4 L1505.3 1272.5 L1508.4 1263.1 L1513.1 1100.6 L1517.8 1097.5 L1522.5 1110.0 L1525.6 1100.6 L1527.2 1028.8 L1534.1 970.0 L1541.2 1019.4 L1542.8 1056.9 L1547.5 1016.2 L1553.8 1016.2 L1556.9 1038.1 L1560.6 1100.6 L1566.2 1097.5 L1569.4 1060.0 L1573.4 970.9 L1580.3 1013.1 L1583.4 1094.4 L1587.5 1035.0 L1591.2 1100.6 L1594.4 1131.9 L1599.1 1103.8 L1603.8 1122.5 L1608.4 1060.0 L1613.1 1041.2 L1616.2 1060.0 L1618.8 1010.0 L1622.5 1016.2 L1625.6 1056.9 L1630.3 1044.4 L1635.0 1053.8 L1636.6 997.5 L1641.2 1000.6 L1644.4 1031.9 L1647.5 1003.8 L1650.6 1044.4 L1655.3 1031.9 L1658.4 1035.0 L1663.1 1000.6 L1669.1 965.6 L1675.6 1006.9 L1680.3 1000.6 L1685.0 1010.0 L1689.7 1003.8 L1692.8 1038.1 L1695.9 1035.0 L1700.9 1075.6 L1710.0 1016.2 L1714.7 1019.4 L1719.4 1053.8 L1724.1 1050.6 L1728.8 1038.1 L1731.9 1016.2 L1736.6 1022.5 L1741.2 1035.0 L1744.4 1025.6 L1750.6 1028.8 L1753.8 988.1 L1757.8 966.2 L1764.7 1000.6 L1769.4 1022.5 L1772.5 1047.5 L1778.8 1076.9 L1786.6 1006.9 L1791.2 1000.6 L1797.5 994.4 L1799.1 988.1 L1806.9 988.1 L1810.0 1022.5 L1816.2 1016.2 L1819.4 1035.0 L1824.1 1031.9 L1828.8 1044.4 L1833.4 1025.6 L1836.6 1035.0 L1839.7 1006.9 L1844.4 1010.0 L1847.5 994.4 L1852.2 989.7 L1855.3 969.4 L1860.0 922.5 L1861.6 881.9 L1867.8 891.2 L1870.9 866.2 L1872.5 860.0 L1874.1 855.0 L1876.2 834.7 L1880.3 834.7 L1888.1 830.0 L1891.2 805.0 L1895.9 798.8 L1903.1 826.9 L1906.9 801.9 L1910.0 758.1 L1914.7 748.8 L1918.8 772.2 L1924.1 756.6 L1927.2 705.0 L1931.9 683.1 L1939.1 687.8 L1942.8 667.5 L1945.9 620.6 L1949.1 608.1 L1952.2 562.8 L1956.9 614.4 L1961.6 586.2 L1963.8 520.6 L1967.8 498.8 L1974.1 390.0 L1977.2 383.8 L1980.9 343.1 L1985.0 421.2 L1985.3 529.1 L1992.8 517.5 L1997.5 526.9 L1999.7 601.9 L2002.2 620.6 L2005.3 631.6 L2009.4 626.9 L2011.6 576.9 L2015.6 593.1" stroke="#F9B818" stroke-opacity="0.85" stroke-width="16.7"/>
<path d="M204.0 1869.0 H4134.7" stroke="#808080" stroke-opacity="0.75" stroke-width="6" stroke-dasharray="23.1 10.02" stroke-linecap="butt"/>
</g>
<rect x="203.5" y="165.2" width="3931.2" height="2037.2" fill="none" stroke="#000" stroke-width="3.1"/>
<path d="M382.5 2204.0 v14.6 M1091.5 2204.0 v14.6 M1800.5 2204.0 v14.6 M2509.4 2204.0 v14.6 M3218.4 2204.0 v14.6 M3927.4 2204.0 v14.6 M201.9 2144.5 h-14.6 M201.9 1869.4 h-14.6 M201.9 1595.2 h-14.6 M201.9 1321.1 h-14.6 M201.9 1046.9 h-14.6 M201.9 772.8 h-14.6 M201.9 498.6 h-14.6 M201.9 224.4 h-14.6" stroke="#000" stroke-width="3.1" fill="none"/>
<text transform="translate(382.50 2264.20) scale(0.9870 1)" x="-12.39" y="0" font-size="44.50" stroke="#000" stroke-width="0.50" stroke-linejoin="round">0</text>
<text transform="translate(1091.48 2264.20) scale(0.9755 1)" x="-40.13 -12.39 14.79" y="0" font-size="44.50" stroke="#000" stroke-width="0.50" stroke-linejoin="round">200</text>
<text transform="translate(1800.46 2264.20) scale(0.9871 1)" x="-39.25 -12.39 14.47" y="0" font-size="44.50" stroke="#000" stroke-width="0.50" stroke-linejoin="round">400</text>
<text transform="translate(2509.44 2264.20) scale(0.9983 1)" x="-38.94 -12.39 14.17" y="0" font-size="44.50" stroke="#000" stroke-width="0.50" stroke-linejoin="round">600</text>
<text transform="translate(3218.42 2264.20) scale(0.9905 1)" x="-39.15 -12.39 14.38" y="0" font-size="44.50" stroke="#000" stroke-width="0.50" stroke-linejoin="round">800</text>
<text transform="translate(3927.40 2264.20) scale(0.9768 1)" x="-53.32 -25.96 1.19 28.33" y="0" font-size="44.50" stroke="#000" stroke-width="0.50" stroke-linejoin="round">1000</text>
<text transform="translate(173.40 2160.50) scale(0.9779 1)" x="-69.32 -53.62 -25.94" y="0" font-size="44.50" stroke="#000" stroke-width="0.50" stroke-linejoin="round">-20</text>
<text transform="translate(173.40 1885.40) scale(0.9870 1)" x="-25.82" y="0" font-size="44.50" stroke="#000" stroke-width="0.50" stroke-linejoin="round">0</text>
<text transform="translate(173.40 1611.24) scale(0.9696 1)" x="-53.97 -26.06" y="0" font-size="44.50" stroke="#000" stroke-width="0.50" stroke-linejoin="round">20</text>
<text transform="translate(173.40 1337.08) scale(0.9871 1)" x="-52.68 -25.82" y="0" font-size="44.50" stroke="#000" stroke-width="0.50" stroke-linejoin="round">40</text>
<text transform="translate(173.40 1062.92) scale(1.0040 1)" x="-52.00 -25.59" y="0" font-size="44.50" stroke="#000" stroke-width="0.50" stroke-linejoin="round">60</text>
<text transform="translate(173.40 788.76) scale(0.9923 1)" x="-52.46 -25.74" y="0" font-size="44.50" stroke="#000" stroke-width="0.50" stroke-linejoin="round">80</text>
<text transform="translate(173.40 514.60) scale(0.9732 1)" x="-80.71 -53.25 -26.01" y="0" font-size="44.50" stroke="#000" stroke-width="0.50" stroke-linejoin="round">100</text>
<text transform="translate(173.40 240.44) scale(0.9611 1)" x="-81.56 -54.33 -26.18" y="0" font-size="44.50" stroke="#000" stroke-width="0.50" stroke-linejoin="round">120</text>
<text transform="translate(2169.10 82.00) scale(1.0786 1)" x="-1102.25 -1052.84 -1010.32 -965.30 -934.35 -907.62 -883.94 -842.39 -818.37 -794.86 -751.75 -708.84 -666.15 -623.60 -597.17 -554.05 -511.15 -467.96 -427.11 -407.45 -355.00 -311.49 -290.79 -246.95 -227.24 -177.74 -133.41 -112.22 -91.94 -68.83 -9.86 35.16 65.09 103.90 147.48 174.21 196.45 235.30 272.82 294.95 346.98 366.53 406.87 433.46 478.42 507.46 525.52 563.42 607.00 627.28 645.29 694.02 737.70 802.12 844.33 889.35 918.39 937.95 975.32 1018.60 1061.21" y="0" font-size="70.00" font-weight="bold" stroke="#000" stroke-width="1.33" stroke-linejoin="round">Chart 5: 2024-2025 Gold Bull Market vs Historical Comparisons</text>
<text transform="translate(2169.10 2328.60) scale(1.0727 1)" x="-170.20 -141.53 -121.02 -88.53 -54.84 -38.99 -5.98 26.97 43.86 81.25 112.30 141.82" y="0" font-size="52.50" font-weight="bold" stroke="#000" stroke-width="1.00" stroke-linejoin="round">Trading Days</text>
<text transform="translate(67.80 1183.80) rotate(-90) scale(1.0988 1)" x="-292.29 -254.71 -221.52 -200.25 -154.18 -121.95 -106.35 -91.34 -64.22 -33.92 -1.37 13.45 50.10 82.29 102.26 136.04 157.16 189.36 205.71 225.50 274.39" y="0" font-size="52.50" font-weight="bold" stroke="#000" stroke-width="1.00" stroke-linejoin="round">Normalized Return (%)</text>
<path d="M238.10 190.10 L968.05 190.10 Q978.05 190.10 978.05 200.10 L978.05 413.96 Q978.05 423.96 968.05 423.96 L238.10 423.96 Q228.10 423.96 228.10 413.96 L228.10 200.10 Q228.10 190.10 238.10 190.10 Z" fill="#fff" fill-opacity="0.8" stroke="#ccc" stroke-opacity="0.8" stroke-width="4.17"/>
<path d="M248.4 231.4 H348.7" stroke="#3B82F6" stroke-opacity="0.8" stroke-width="12.5" stroke-linecap="square" fill="none"/>
<text transform="translate(386.60 248.90) scale(0.9927 1)" x="0.68 33.39 65.44 97.48 128.49 147.04 179.75 211.53 243.58 274.55 290.16 326.30 358.17 372.17 385.03 400.81 443.36 477.91 497.86 524.37 556.85" y="0" font-size="52.75" stroke="#000" stroke-width="0.60" stroke-linejoin="round">2008-2011 Bull Market</text>
<path d="M248.4 304.4 H348.7" stroke="#EF4444" stroke-opacity="0.8" stroke-width="12.5" stroke-linecap="square" fill="none"/>
<text transform="translate(386.60 321.90) scale(0.9944 1)" x="0.65 33.31 65.03 97.13 128.25 146.76 179.42 210.74 243.40 274.07 289.63 325.71 357.55 371.52 384.36 400.08 442.57 477.07 496.98 523.44 555.87" y="0" font-size="52.75" stroke="#000" stroke-width="0.60" stroke-linejoin="round">2019-2020 Bull Market</text>
<path d="M248.4 377.5 H348.7" stroke="#F9B818" stroke-opacity="0.85" stroke-width="16.7" stroke-linecap="square" fill="none"/>
<text transform="translate(386.60 395.00) scale(0.9894 1)" x="0.73 33.55 65.03 97.85 128.95 147.58 180.39 211.88 244.50 275.46 291.18 327.43 359.38 373.42 386.30 402.21 444.89 479.52 499.56 526.16 558.72" y="0" font-size="52.75" stroke="#000" stroke-width="0.60" stroke-linejoin="round">2024-2025 Bull Market</text>
<g stroke="#FFD700" stroke-width="8" fill="none" stroke-linecap="round" stroke-linejoin="round"><path d="M2070.5 287.4 L1995.9 331.6"/><path d="M2007 314.4 L1995.9 331.6 L2016.3 330.2"/></g>
<path d="M2064.35 158.20 L2293.85 158.20 Q2307.60 158.20 2307.60 171.95 L2307.60 268.55 Q2307.60 282.30 2293.85 282.30 L2064.35 282.30 Q2050.60 282.30 2050.60 268.55 L2050.60 171.95 Q2050.60 158.20 2064.35 158.20 Z" fill="#FFD700" fill-opacity="0.8" stroke="#000" stroke-opacity="0.8" stroke-width="4.17"/>
<text transform="translate(2064.40 206.70) scale(1.0669 1)" x="-0.16 32.31 59.97 90.87" y="0" font-size="48.58" font-weight="bold" stroke="#000" stroke-width="0.92" stroke-linejoin="round">Peak</text>
<text transform="translate(2064.40 258.20) scale(1.0748 1)" x="3.64 37.14 66.81 96.48 126.12 142.01 170.42" y="0" font-size="48.58" font-weight="bold" stroke="#000" stroke-width="0.92" stroke-linejoin="round">+111.4%</text>
</svg></body></html>
